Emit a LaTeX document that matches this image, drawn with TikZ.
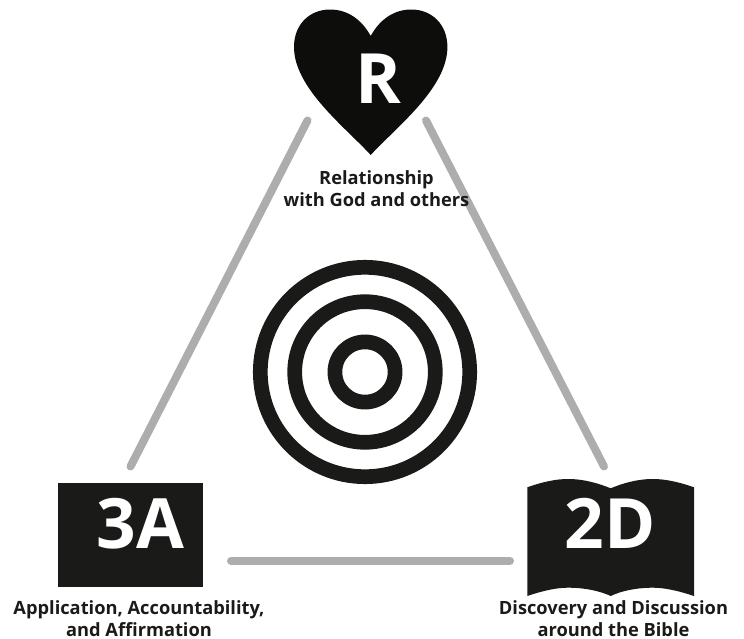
\documentclass[tikz,border=0pt]{standalone}
\usepackage{fontspec}
\setmainfont{Open Sans}
\definecolor{inkblack}{HTML}{1A1A18}
\definecolor{heartblack}{HTML}{0D0D0B}
\definecolor{linkgrey}{HTML}{ADADAD}
\tikzset{
letter/.style={text=white,font=\fontsize{39.5}{39.5}\selectfont\bfseries,inner sep=0pt},
caption/.style={text=inkblack,align=center,inner sep=0pt,font=\fontsize{10.4}{12.3}\selectfont\bfseries},
ring/.style={circle,draw=inkblack,line width=.294cm,inner sep=0pt},
link/.style={draw=linkgrey,line width=.16cm,line cap=round}
}
\begin{document}
\begin{tikzpicture}
[x=.02cm,y=-.02cm]
\useasboundingbox (0,0) rectangle (744,639);
\coordinate (c1) at (307.5,120.5);
\coordinate (c2) at (130.5,466.5);
\coordinate (c3) at (426,120.5);
\coordinate (c4) at (604,466.5);
\coordinate (c5) at (231,560.7);
\coordinate (c6) at (510,560.7);
\foreach \from/\to in {c1/c2,c3/c4,c5/c6}
\draw[link] (\from) -- (\to);
\foreach \name/\size in {ringa/209.4,ringb/140.6,ringc/60.2}
\node[ring,minimum size={\size*.02cm}] (\name) at (365,372) {};
\fill[heartblack] (370.7,155) .. controls (345,127) and (294,88) .. (294,47)
.. controls (294,24) and (310,9.5) .. (330,9.5)
.. controls (348,9.5) and (362,20) .. (370.7,36)
.. controls (379.4,20) and (393.4,9.5) .. (411.4,9.5)
.. controls (431.4,9.5) and (447.4,24) .. (447.4,47)
.. controls (447.4,88) and (396.4,127) .. (370.7,155) -- cycle;
\node[fill=inkblack,minimum width=2.9cm,minimum height=2.08cm,inner sep=0pt] (nbox) at (130.5,535.3) {};
\fill[inkblack] (527.3,487.3) .. controls (545,481) and (558,479) .. (568,479)
.. controls (585,479) and (600,484) .. (610.7,488.3)
.. controls (621,484) and (636,479) .. (653,479)
.. controls (663,479) and (676,481) .. (694,487.3)
-- (694,596) .. controls (676,590) and (663,587.7) .. (653,587.7)
.. controls (636,587.7) and (621,591) .. (610.7,596)
.. controls (600,591) and (585,587.7) .. (568,587.7)
.. controls (558,587.7) and (545,590) .. (527.3,596) -- cycle;
\node[letter] (nR) at (378,79) {R};
\node[letter] (n3A) at (140.5,524) {3A};
\node[letter] (n2D) at (610,523.5) {2D};
\node[caption] (t1) at (376.5,188.5) {Relationship\\with God and others};
\node[caption] (t2) at (139,618.5) {Application, Accountability,\\and Affirmation};
\node[caption] (t3) at (613.5,618.5) {Discovery and Discussion\\around the Bible};
\end{tikzpicture}
\end{document}
